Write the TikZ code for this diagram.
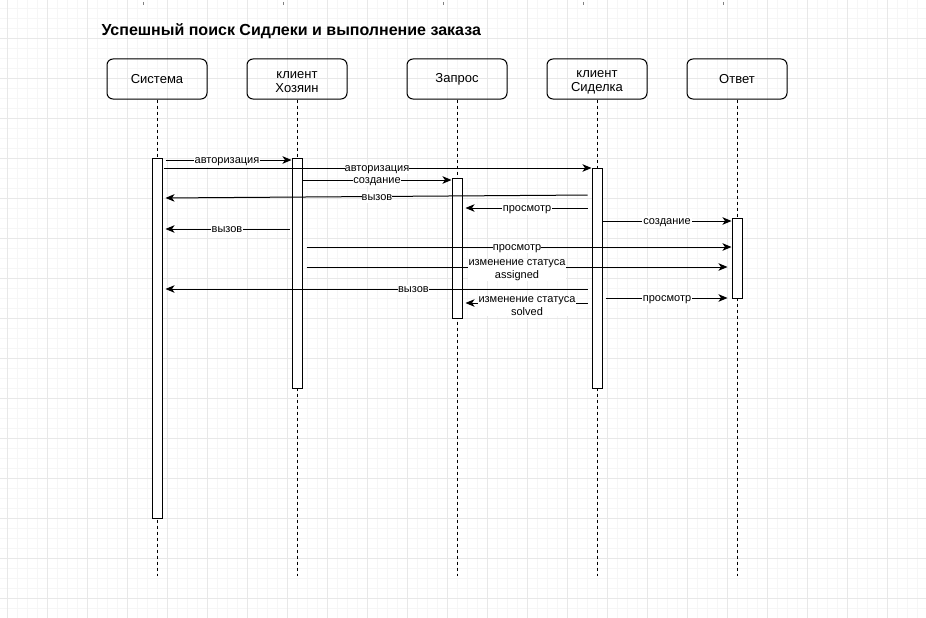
\documentclass[tikz,border=0pt]{standalone}
\usepackage{fontspec}
\setmainfont{Liberation Sans}
\usetikzlibrary{arrows.meta,positioning,calc}
\definecolor{gridminor}{HTML}{F6F6F6}
\definecolor{gridmajor}{HTML}{E8E8E8}
\begin{document}
\begin{tikzpicture}[x=1pt,y=-1pt,line width=1pt,
	head/.style={draw, rounded corners=6pt, minimum width=100pt, minimum height=40pt, align=center, font=\fontsize{13}{14}\selectfont},
	headtwo/.style={head, label={[align=center, yshift=-3.5pt, font=\fontsize{13}{14}\selectfont]center:#1}},
	bar/.style={draw, fill=white, minimum width=10pt, inner sep=0pt},
	life/.style={dashed, dash pattern=on 3pt off 3pt},
	msg/.style={-{Stealth[length=9pt,width=7.5pt,inset=2.5pt]}},
	lbl/.style={fill=white, inner sep=1pt, yshift=-1pt, text height=1.5ex, text depth=0.5ex, font=\fontsize{11}{12.5}\selectfont},
	lbltwo/.style={fill=white, inner sep=1pt, align=center, yshift=-3pt, font=\fontsize{11}{12.5}\selectfont}]
	\useasboundingbox (0,0) rectangle (926,618);
	% grid
	\foreach \x in {7,17,...,927} \draw[gridminor, line width=0.6pt] (\x,0) -- (\x,618);
	\foreach \y in {8,18,...,618} \draw[gridminor, line width=0.6pt] (0,\y) -- (926,\y);
	\foreach \x in {7,47,...,927} \draw[gridmajor, line width=0.8pt] (\x,0) -- (\x,618);
	\foreach \y in {38,78,...,618} \draw[gridmajor, line width=0.8pt] (0,\y) -- (926,\y);
	\foreach \x in {143,283,443,583,723} \draw[gray, line width=1pt] (\x,2) -- (\x,5);
	% title
	\node[anchor=west, font=\fontsize{16}{18}\bfseries\selectfont, inner sep=0pt] (title) at (101,31) {Успешный поиск Сидлеки и выполнение заказа};
	% heads
	\node[head] (sys) at (157,79) {Система};
	\node[headtwo={клиент\\Хозяин}] (own) at (297,79) {};
	\node[head] (req) at (457,79) {Запрос};
	\node[headtwo={клиент\\Сиделка}] (nurse) at (597,79) {};
	\node[head] (resp) at (737,79) {Ответ};
	% lifelines
	\foreach \n/\x in {sys/157,own/297,req/457,nurse/597,resp/737}{
		\coordinate (\n End) at (\x,576);
		\draw[life] (\n.south) -- (\n End);
	}
	% bars
	\node[bar, minimum height=360pt] (sysBar) at (157,338) {};
	\node[bar, minimum height=230pt] (ownBar) at (297,273) {};
	\node[bar, minimum height=140pt] (reqBar) at (457,248) {};
	\node[bar, minimum height=220pt] (nurseBar) at (597,278) {};
	\node[bar, minimum height=80pt] (respBar) at (737,258) {};
	% messages
	\draw[msg, shorten <=3pt] (sysBar.east |- 0,160) -- (ownBar.west |- 0,160) node[lbl, midway] {авторизация};
	\draw[msg, shorten <=1pt] (sysBar.east |- 0,168) -- (nurseBar.west |- 0,168) node[lbl, midway, inner sep=0pt] {авторизация};
	\draw[msg] (ownBar.east |- 0,180) -- (reqBar.west |- 0,180) node[lbl, midway, inner sep=0pt] {создание};
	\draw[msg, shorten <=4pt, shorten >=3pt] (nurseBar.west |- 0,195) -- (sysBar.east |- 0,198) node[lbl, midway, inner sep=0pt] {вызов};
	\draw[msg, shorten <=4pt, shorten >=3pt] (nurseBar.west |- 0,208) -- (reqBar.east |- 0,208) node[lbl, midway] {просмотр};
	\draw[msg] (nurseBar.east |- 0,221) -- (respBar.west |- 0,221) node[lbl, midway] {создание};
	\draw[msg, shorten <=2pt, shorten >=3pt] (ownBar.west |- 0,229) -- (sysBar.east |- 0,229) node[lbl, midway] {вызов};
	\draw[msg, shorten <=4pt] (ownBar.east |- 0,247) -- (respBar.west |- 0,247) node[lbl, midway, inner sep=0pt] {просмотр};
	\draw[msg, shorten <=4pt, shorten >=4pt] (ownBar.east |- 0,267) -- (respBar.west |- 0,267) node[lbltwo, midway] {изменение статуса\\assigned};
	\draw[msg, shorten <=4pt, shorten >=3pt] (nurseBar.west |- 0,289) -- (sysBar.east |- 0,289) node[lbl, pos=0.415, inner sep=0pt] {вызов};
	\draw[msg, shorten <=4pt, shorten >=3pt] (nurseBar.west |- 0,303) -- (reqBar.east |- 0,303) node[lbltwo, midway] {изменение статуса\\solved};
	\draw[msg, shorten <=3pt, shorten >=4pt] (nurseBar.east |- 0,298) -- (respBar.west |- 0,298) node[lbl, midway] {просмотр};
\end{tikzpicture}
\end{document}
